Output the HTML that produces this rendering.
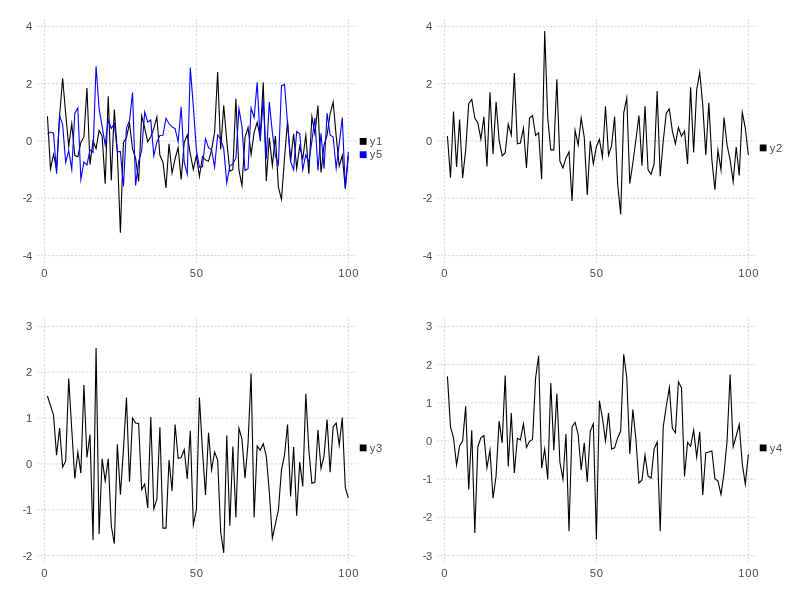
<!DOCTYPE html>
<html><head><meta charset="utf-8"><style>
html,body{margin:0;padding:0;background:#fff;}
svg{display:block;will-change:transform;}
text{font-family:"Liberation Sans", sans-serif;font-size:11.2px;fill:#524656;letter-spacing:0.75px;}
</style></head><body>
<svg width="800" height="600" viewBox="0 0 800 600">
<rect width="800" height="600" fill="#fff"/>
<path d="M44.40 262.60V19.00 M196.38 262.60V19.00 M348.35 262.60V19.00 M37.00 26.35H356.00 M37.00 83.66H356.00 M37.00 140.97H356.00 M37.00 198.29H356.00 M37.00 255.60H356.00" stroke="#d2d2e2" stroke-width="1" stroke-dasharray="2 1.778" fill="none"/>
<text transform="translate(33.10,30.35) scale(1.0,1)" text-anchor="end">4</text>
<text transform="translate(33.10,87.66) scale(1.0,1)" text-anchor="end">2</text>
<text transform="translate(33.10,144.97) scale(1.0,1)" text-anchor="end">0</text>
<text transform="translate(33.10,202.29) scale(1.0,1)" text-anchor="end"><tspan dy="-0.9">-</tspan><tspan dy="0.9" dx="-1.0">2</tspan></text>
<text transform="translate(33.10,259.60) scale(1.0,1)" text-anchor="end"><tspan dy="-0.9">-</tspan><tspan dy="0.9" dx="-1.0">4</tspan></text>
<text transform="translate(44.70,277.00) scale(1.0,1)" text-anchor="middle">0</text>
<text transform="translate(196.68,277.00) scale(1.0,1)" text-anchor="middle">50</text>
<text transform="translate(348.65,277.00) scale(1.0,1)" text-anchor="middle">100</text>
<polyline points="47.44,116.33 50.48,168.77 53.52,154.44 56.56,169.06 59.60,116.04 62.64,78.22 65.68,113.75 68.72,146.13 71.76,123.78 74.80,155.59 77.83,156.74 80.87,142.41 83.91,136.96 86.95,87.96 89.99,164.47 93.03,140.97 96.07,148.71 99.11,130.37 102.15,136.10 105.19,183.67 108.23,96.27 111.27,180.52 114.31,109.45 117.35,152.44 120.39,232.68 123.43,142.41 126.47,137.54 129.51,123.21 132.55,149.00 135.59,158.17 138.62,181.38 141.66,115.76 144.70,128.08 147.74,141.83 150.78,136.68 153.82,128.37 156.86,116.90 159.90,155.30 162.94,162.18 165.98,187.97 169.02,143.84 172.06,173.07 175.10,158.74 178.14,147.85 181.18,179.37 184.22,142.41 187.26,134.96 190.30,153.87 193.34,169.63 196.38,155.59 199.41,176.51 202.45,156.74 205.49,159.89 208.53,161.32 211.57,149.86 214.61,132.38 217.65,71.91 220.69,149.29 223.73,105.44 226.77,140.97 229.81,171.35 232.85,169.34 235.89,98.85 238.93,169.92 241.97,185.68 245.01,137.54 248.05,127.51 251.09,154.44 254.13,132.38 257.17,122.35 260.20,137.54 263.24,82.23 266.28,181.09 269.32,137.54 272.36,165.62 275.40,136.10 278.44,187.40 281.48,199.43 284.52,158.17 287.56,120.92 290.60,161.32 293.64,133.81 296.68,168.48 299.72,146.13 302.76,158.74 305.80,135.24 308.84,173.64 311.88,116.62 314.92,133.81 317.95,105.44 320.99,172.50 324.03,144.99 327.07,135.24 330.11,113.75 333.15,102.00 336.19,136.10 339.23,166.19 342.27,155.59 345.31,188.54 348.35,156.16" stroke="#000000" stroke-width="1.1" fill="none" stroke-linejoin="miter" stroke-miterlimit="10"/>
<polyline points="47.44,134.10 50.48,132.09 53.52,133.24 56.56,173.64 59.60,115.47 62.64,124.93 65.68,162.47 68.72,150.72 71.76,169.34 74.80,113.18 77.83,108.02 80.87,179.37 83.91,161.89 86.95,165.05 89.99,149.86 93.03,152.44 96.07,66.18 99.11,108.59 102.15,126.65 105.19,144.99 108.23,119.77 111.27,128.37 114.31,123.49 117.35,151.58 120.39,151.58 123.43,186.54 126.47,128.08 129.51,120.63 132.55,92.55 135.59,185.39 138.62,161.61 141.66,151.00 144.70,112.03 147.74,122.06 150.78,120.06 153.82,155.88 156.86,141.83 159.90,135.53 162.94,135.24 165.98,118.34 169.02,123.78 172.06,126.93 175.10,128.65 178.14,141.83 181.18,106.87 184.22,162.47 187.26,174.22 190.30,67.62 193.34,106.59 196.38,149.86 199.41,167.34 202.45,166.77 205.49,138.68 208.53,147.57 211.57,149.86 214.61,167.05 217.65,134.96 220.69,139.26 223.73,148.71 226.77,182.81 229.81,166.19 232.85,163.61 235.89,158.17 238.93,108.88 241.97,126.65 245.01,170.49 248.05,168.77 251.09,108.02 254.13,117.48 257.17,82.23 260.20,140.97 263.24,100.00 266.28,158.74 269.32,102.00 272.36,132.38 275.40,156.16 278.44,164.47 281.48,85.67 284.52,84.52 287.56,123.78 290.60,161.32 293.64,169.92 296.68,131.52 299.72,133.52 302.76,169.92 305.80,154.73 308.84,162.47 311.88,140.97 314.92,118.05 317.95,170.49 320.99,133.24 324.03,168.77 327.07,113.18 330.11,134.96 333.15,136.96 336.19,168.20 339.23,143.84 342.27,117.48 345.31,188.54 348.35,151.86" stroke="#0000ff" stroke-width="1.1" fill="none" stroke-linejoin="miter" stroke-miterlimit="10"/>
<rect x="359.75" y="138" width="6.8" height="6.8" fill="#000"/>
<text transform="translate(369.70,145.10) scale(1.0,1)" text-anchor="start">y1</text>
<rect x="359.75" y="151.3" width="6.8" height="6.8" fill="#0000ff"/>
<text transform="translate(369.70,158.40) scale(1.0,1)" text-anchor="start">y5</text>
<path d="M444.40 262.60V19.00 M596.38 262.60V19.00 M748.35 262.60V19.00 M437.00 26.35H756.00 M437.00 83.66H756.00 M437.00 140.97H756.00 M437.00 198.29H756.00 M437.00 255.60H756.00" stroke="#d2d2e2" stroke-width="1" stroke-dasharray="2 1.778" fill="none"/>
<text transform="translate(433.10,30.35) scale(1.0,1)" text-anchor="end">4</text>
<text transform="translate(433.10,87.66) scale(1.0,1)" text-anchor="end">2</text>
<text transform="translate(433.10,144.97) scale(1.0,1)" text-anchor="end">0</text>
<text transform="translate(433.10,202.29) scale(1.0,1)" text-anchor="end"><tspan dy="-0.9">-</tspan><tspan dy="0.9" dx="-1.0">2</tspan></text>
<text transform="translate(433.10,259.60) scale(1.0,1)" text-anchor="end"><tspan dy="-0.9">-</tspan><tspan dy="0.9" dx="-1.0">4</tspan></text>
<text transform="translate(444.70,277.00) scale(1.0,1)" text-anchor="middle">0</text>
<text transform="translate(596.67,277.00) scale(1.0,1)" text-anchor="middle">50</text>
<text transform="translate(748.65,277.00) scale(1.0,1)" text-anchor="middle">100</text>
<polyline points="447.44,136.10 450.48,177.66 453.52,111.46 456.56,167.05 459.60,119.48 462.64,177.94 465.68,149.86 468.72,103.72 471.76,99.42 474.79,118.05 477.83,122.92 480.87,138.97 483.91,116.90 486.95,166.48 489.99,92.26 493.03,153.87 496.07,101.72 499.11,140.12 502.15,155.88 505.19,153.01 508.23,124.07 511.27,134.96 514.31,73.06 517.35,143.84 520.39,142.98 523.43,128.08 526.47,167.91 529.51,118.05 532.55,115.47 535.59,135.53 538.62,132.95 541.66,179.09 544.70,30.94 547.74,118.05 550.78,149.86 553.82,149.86 556.86,79.36 559.90,161.03 562.94,167.91 565.98,157.88 569.02,151.86 572.06,200.87 575.10,130.37 578.14,144.99 581.18,118.05 584.22,136.96 587.26,194.85 590.30,140.97 593.34,163.90 596.38,146.71 599.41,139.54 602.45,157.02 605.49,106.30 608.53,155.02 611.57,145.85 614.61,116.62 617.65,183.96 620.69,214.34 623.73,112.89 626.77,97.99 629.81,183.67 632.85,163.04 635.89,140.12 638.93,115.47 641.97,165.62 645.01,106.30 648.05,169.92 651.09,174.22 654.13,163.90 657.16,91.11 660.20,176.22 663.24,140.97 666.28,113.18 669.32,108.88 672.36,130.95 675.40,143.84 678.44,127.51 681.48,136.10 684.52,130.95 687.56,163.90 690.60,87.39 693.64,152.44 696.68,89.97 699.72,72.20 702.76,105.15 705.80,155.02 708.84,102.86 711.88,159.89 714.92,189.69 717.95,150.15 720.99,169.92 724.03,117.48 727.07,144.99 730.11,159.89 733.15,181.67 736.19,146.99 739.23,175.36 742.27,112.32 745.31,128.08 748.35,155.02" stroke="#000000" stroke-width="1.1" fill="none" stroke-linejoin="miter" stroke-miterlimit="10"/>
<rect x="759.75" y="144.5" width="6.8" height="6.8" fill="#000"/>
<text transform="translate(769.70,151.60) scale(1.0,1)" text-anchor="start">y2</text>
<path d="M44.40 562.60V319.00 M196.38 562.60V319.00 M348.35 562.60V319.00 M37.00 326.35H356.00 M37.00 372.20H356.00 M37.00 418.05H356.00 M37.00 463.90H356.00 M37.00 509.75H356.00 M37.00 555.60H356.00" stroke="#d2d2e2" stroke-width="1" stroke-dasharray="2 1.778" fill="none"/>
<text transform="translate(33.10,330.35) scale(1.0,1)" text-anchor="end">3</text>
<text transform="translate(33.10,376.20) scale(1.0,1)" text-anchor="end">2</text>
<text transform="translate(33.10,422.05) scale(1.0,1)" text-anchor="end">1</text>
<text transform="translate(33.10,467.90) scale(1.0,1)" text-anchor="end">0</text>
<text transform="translate(33.10,513.75) scale(1.0,1)" text-anchor="end"><tspan dy="-0.9">-</tspan><tspan dy="0.9" dx="-1.0">1</tspan></text>
<text transform="translate(33.10,559.60) scale(1.0,1)" text-anchor="end"><tspan dy="-0.9">-</tspan><tspan dy="0.9" dx="-1.0">2</tspan></text>
<text transform="translate(44.70,577.00) scale(1.0,1)" text-anchor="middle">0</text>
<text transform="translate(196.68,577.00) scale(1.0,1)" text-anchor="middle">50</text>
<text transform="translate(348.65,577.00) scale(1.0,1)" text-anchor="middle">100</text>
<polyline points="47.44,396.04 50.48,405.67 53.52,414.84 56.56,455.19 59.60,428.14 62.64,467.11 65.68,461.15 68.72,378.62 71.76,429.51 74.80,478.57 77.83,451.98 80.87,473.07 83.91,385.04 86.95,457.48 89.99,434.56 93.03,540.01 96.07,347.90 99.11,534.05 102.15,458.86 105.19,480.86 108.23,458.86 111.27,525.80 114.31,543.68 117.35,444.18 120.39,494.62 123.43,450.15 126.47,397.42 129.51,481.78 132.55,418.05 135.59,423.09 138.62,423.55 141.66,489.58 144.70,484.07 147.74,507.92 150.78,417.13 153.82,508.83 156.86,499.20 159.90,427.22 162.94,528.09 165.98,528.09 169.02,460.00 172.06,490.95 175.10,424.47 178.14,458.40 181.18,457.48 184.22,449.69 187.26,479.03 190.30,430.89 193.34,524.88 196.38,509.75 199.41,397.42 202.45,450.15 205.49,495.08 208.53,432.72 211.57,469.86 214.61,451.98 217.65,460.00 220.69,532.22 223.73,552.85 226.77,435.47 229.81,525.80 232.85,446.48 235.89,517.54 238.93,428.14 241.97,439.14 245.01,478.11 248.05,443.27 251.09,373.58 254.13,517.54 257.17,446.02 260.20,450.15 263.24,443.73 266.28,456.11 269.32,491.87 272.36,538.18 275.40,523.96 278.44,509.75 281.48,469.86 284.52,455.19 287.56,424.47 290.60,496.45 293.64,446.94 296.68,515.71 299.72,462.07 302.76,486.37 305.80,393.75 308.84,450.15 311.88,483.16 314.92,482.24 317.95,429.97 320.99,468.49 324.03,456.11 327.07,419.43 330.11,472.15 333.15,426.76 336.19,423.09 339.23,445.10 342.27,417.59 345.31,487.74 348.35,497.83" stroke="#000000" stroke-width="1.1" fill="none" stroke-linejoin="miter" stroke-miterlimit="10"/>
<rect x="359.75" y="444.5" width="6.8" height="6.8" fill="#000"/>
<text transform="translate(369.70,451.60) scale(1.0,1)" text-anchor="start">y3</text>
<path d="M444.40 562.60V319.00 M596.38 562.60V319.00 M748.35 562.60V319.00 M437.00 326.35H756.00 M437.00 364.56H756.00 M437.00 402.77H756.00 M437.00 440.98H756.00 M437.00 479.18H756.00 M437.00 517.39H756.00 M437.00 555.60H756.00" stroke="#d2d2e2" stroke-width="1" stroke-dasharray="2 1.778" fill="none"/>
<text transform="translate(433.10,330.35) scale(1.0,1)" text-anchor="end">3</text>
<text transform="translate(433.10,368.56) scale(1.0,1)" text-anchor="end">2</text>
<text transform="translate(433.10,406.77) scale(1.0,1)" text-anchor="end">1</text>
<text transform="translate(433.10,444.98) scale(1.0,1)" text-anchor="end">0</text>
<text transform="translate(433.10,483.18) scale(1.0,1)" text-anchor="end"><tspan dy="-0.9">-</tspan><tspan dy="0.9" dx="-1.0">1</tspan></text>
<text transform="translate(433.10,521.39) scale(1.0,1)" text-anchor="end"><tspan dy="-0.9">-</tspan><tspan dy="0.9" dx="-1.0">2</tspan></text>
<text transform="translate(433.10,559.60) scale(1.0,1)" text-anchor="end"><tspan dy="-0.9">-</tspan><tspan dy="0.9" dx="-1.0">3</tspan></text>
<text transform="translate(444.70,577.00) scale(1.0,1)" text-anchor="middle">0</text>
<text transform="translate(596.67,577.00) scale(1.0,1)" text-anchor="middle">50</text>
<text transform="translate(748.65,577.00) scale(1.0,1)" text-anchor="middle">100</text>
<polyline points="447.44,376.40 450.48,426.84 453.52,437.92 456.56,465.05 459.60,445.94 462.64,440.98 465.68,406.21 468.72,489.50 471.76,430.28 474.79,533.06 477.83,446.71 480.87,437.92 483.91,435.63 486.95,467.72 489.99,450.15 493.03,498.29 496.07,476.13 499.11,421.11 502.15,442.89 505.19,375.64 508.23,466.57 511.27,413.08 514.31,473.07 517.35,438.30 520.39,439.83 523.43,423.78 526.47,447.47 529.51,441.36 532.55,439.45 535.59,377.93 538.62,355.77 541.66,468.10 544.70,449.00 547.74,479.57 550.78,382.90 553.82,450.15 556.86,393.60 559.90,461.99 562.94,479.18 565.98,434.10 569.02,531.15 572.06,426.84 575.10,422.25 578.14,434.48 581.18,470.01 584.22,442.89 587.26,481.86 590.30,431.04 593.34,423.78 596.38,539.55 599.41,400.86 602.45,418.05 605.49,440.98 608.53,413.08 611.57,449.00 614.61,447.85 617.65,437.92 620.69,431.04 623.73,354.24 626.77,377.93 629.81,453.97 632.85,409.64 635.89,439.06 638.93,483.00 641.97,479.95 645.01,455.11 648.05,476.13 651.09,478.04 654.13,449.00 657.16,442.12 660.20,531.15 663.24,426.84 666.28,406.21 669.32,387.48 672.36,428.37 675.40,432.95 678.44,381.75 681.48,387.87 684.52,476.51 687.56,442.50 690.60,446.32 693.64,430.28 696.68,457.02 699.72,431.81 702.76,494.85 705.80,452.82 708.84,452.06 711.88,450.91 714.92,478.80 717.95,481.09 720.99,494.47 724.03,473.07 727.07,440.98 730.11,374.49 733.15,446.71 736.19,436.01 739.23,424.55 742.27,463.90 745.31,484.15 748.35,454.35" stroke="#000000" stroke-width="1.1" fill="none" stroke-linejoin="miter" stroke-miterlimit="10"/>
<rect x="759.75" y="444.5" width="6.8" height="6.8" fill="#000"/>
<text transform="translate(769.70,451.60) scale(1.0,1)" text-anchor="start">y4</text>
</svg>
</body></html>
